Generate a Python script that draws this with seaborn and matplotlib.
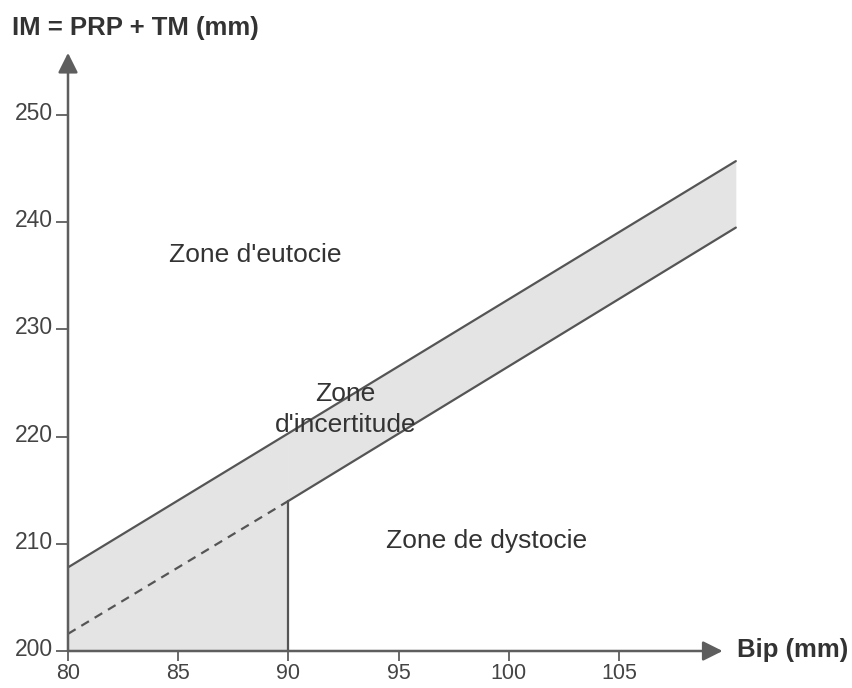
import matplotlib
matplotlib.use("Agg")
import matplotlib.pyplot as plt
import matplotlib.transforms as mtransforms
import seaborn as sns
import numpy as np

# ---- data ----
upper_x = [80, 110.3]
upper_y = [207.8, 245.7]
lower_dashed_x = [80, 90]
lower_dashed_y = [201.6, 214.0]
lower_solid_x = [90, 110.3]
lower_solid_y = [214.0, 239.5]
cutoff_x = 90
x_ticks = [80, 85, 90, 95, 100, 105]
y_ticks = [200, 210, 220, 230, 240, 250]
zone_labels = ["Zone d'eutocie", "Zone\nd'incertitude", "Zone de dystocie"]
zone_x = [88.5, 92.6, 99.0]
zone_y = [236.9, 222.5, 210.3]
y_title = "IM = PRP + TM (mm)"
x_title = "Bip (mm)"

sns.set_style("white")
plt.rcParams['font.family'] = ['Liberation Sans', 'DejaVu Sans']

LINE = "#555555"
AXC = "#5e5e5e"
FILL = "#e4e4e4"
TXT = "#333333"

fig = plt.figure(figsize=(8.52, 6.88), dpi=100)
# axes box: x=80 at px 68, y=200 at px 651
ax = fig.add_axes([68/852, 37/688, (773.3-68)/852, (651-40)/688])
ax.set_xlim(80, 112)
ax.set_ylim(200, 257)
for s in ax.spines.values():
    s.set_visible(False)

# shaded areas
def interp(xs, ys, x):
    return np.interp(x, xs, ys)

xa = np.array([80, cutoff_x])
ax.fill_between(xa, [200, 200], interp(upper_x, upper_y, xa), color=FILL, lw=0, zorder=1)
xb = np.array([cutoff_x, upper_x[1]])
ax.fill_between(xb, interp(lower_solid_x, lower_solid_y, xb), interp(upper_x, upper_y, xb),
                color=FILL, lw=0, zorder=1)

# lines
sns.lineplot(x=upper_x, y=upper_y, ax=ax, color=LINE, lw=1.6, zorder=3)
sns.lineplot(x=lower_solid_x, y=lower_solid_y, ax=ax, color=LINE, lw=1.6, zorder=3)
sns.lineplot(x=lower_dashed_x, y=lower_dashed_y, ax=ax, color=LINE, lw=1.6,
             linestyle=(0, (4, 3)), zorder=3)
ax.plot([cutoff_x, cutoff_x], [200, lower_dashed_y[1]], color=LINE, lw=1.6, zorder=3)

# axes arrows
arrow = dict(arrowstyle='-|>,head_length=0.6,head_width=0.3', color=AXC, lw=1.8,
             mutation_scale=20, shrinkA=0, shrinkB=0)
ax.annotate("", xy=(109.7, 200), xytext=(80, 200), arrowprops=arrow,
            annotation_clip=False, zorder=4)
ax.annotate("", xy=(80, 255.8), xytext=(80, 200), arrowprops=arrow,
            annotation_clip=False, zorder=4)

# ticks
ax.set_xticks(x_ticks)
ax.set_yticks(y_ticks)
ax.set_xticklabels([str(v) for v in x_ticks])
ax.set_yticklabels([str(v) for v in y_ticks])
ax.tick_params(axis='x', direction='out', length=7, width=1.3, color=AXC,
               labelsize=15.5, labelcolor="#444444", pad=1.5, bottom=True)
ax.tick_params(axis='y', direction='out', length=9, width=1.3, color=AXC,
               labelsize=16.5, labelcolor="#444444", pad=2, left=True)
off = mtransforms.ScaledTranslation(0, 4/100, fig.dpi_scale_trans)
for lab in ax.get_yticklabels():
    lab.set_transform(lab.get_transform() + off)

# zone texts
for t, x, y in zip(zone_labels, zone_x, zone_y):
    ax.text(x, y, t, ha='center', va='center', fontsize=19, color=TXT,
            zorder=5, linespacing=1.35)

# axis titles
fig.text(12/852, 1 - 28/688, y_title, ha='left', va='center', fontsize=18.5,
         fontweight='bold', color=TXT)
fig.text(737/852, 1 - 650/688, x_title, ha='left', va='center', fontsize=18.5,
         fontweight='bold', color=TXT)

fig.savefig("out.png", dpi=100)
